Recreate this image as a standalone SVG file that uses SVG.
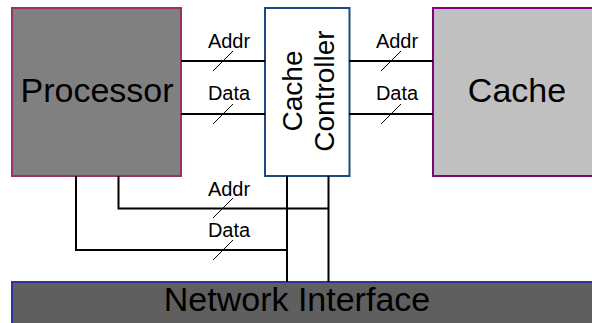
<svg xmlns="http://www.w3.org/2000/svg" width="592" height="323" viewBox="0 0 592 323">
  <style>
    text { font-family: "Liberation Sans", Arial, sans-serif; fill: #000; }
    .big { font-size: 34px; text-anchor: middle; }
    .ctl { font-size: 28px; text-anchor: middle; }
    .lbl { font-size: 20px; text-anchor: middle; }
    .bus { stroke: #000; stroke-width: 2; fill: none; }
    .tick { stroke: #000; stroke-width: 1; fill: none; }
  </style>

  <!-- Processor -->
  <g id="processor">
    <rect x="12" y="8" width="169" height="168" fill="#808080" stroke="#993366" stroke-width="2"/>
    <text class="big" x="97" y="102">Processor</text>
  </g>

  <!-- Cache controller, label set vertically -->
  <g id="cache-controller">
    <rect x="265" y="8" width="84.5" height="168" fill="#ffffff" stroke="#1c4a7c" stroke-width="2"/>
    <text class="ctl" transform="translate(302 91) rotate(-90)">Cache</text>
    <text class="ctl" transform="translate(334 91) rotate(-90)">Controller</text>
  </g>

  <!-- Cache -->
  <g id="cache">
    <rect x="433" y="8" width="170" height="168" fill="#c0c0c0" stroke="#800080" stroke-width="2"/>
    <text class="big" x="517" y="102">Cache</text>
  </g>

  <!-- Network interface -->
  <g id="network-interface">
    <rect x="12" y="282" width="590" height="50" fill="#5f5f5f" stroke="#333399" stroke-width="2"/>
    <text class="big" x="297" y="311">Network Interface</text>
  </g>

  <!-- Buses with width ticks -->
  <g id="connectors">
    <!-- processor to controller -->
    <line class="bus" x1="181" y1="61" x2="265" y2="61"/>
    <line class="bus" x1="181" y1="114" x2="265" y2="114"/>
    <line class="tick" x1="213" y1="71" x2="233" y2="51"/>
    <line class="tick" x1="213" y1="124" x2="233" y2="104"/>

    <!-- controller to cache -->
    <line class="bus" x1="349" y1="61" x2="433" y2="61"/>
    <line class="bus" x1="349" y1="114" x2="433" y2="114"/>
    <line class="tick" x1="381" y1="71" x2="401" y2="51"/>
    <line class="tick" x1="381" y1="124" x2="401" y2="104"/>

    <!-- processor to network interface -->
    <polyline class="bus" points="118.5,176 118.5,208.5 328.5,208.5"/>
    <polyline class="bus" points="76,176 76,250 287,250"/>
    <line class="tick" x1="213" y1="218" x2="233" y2="198"/>
    <line class="tick" x1="213" y1="260" x2="233" y2="240"/>

    <!-- controller to network interface -->
    <line class="bus" x1="287" y1="176" x2="287" y2="282"/>
    <line class="bus" x1="328.5" y1="176" x2="328.5" y2="282"/>
  </g>

  <!-- Bus labels -->
  <g id="labels">
    <text class="lbl" x="229" y="48">Addr</text>
    <text class="lbl" x="229" y="100">Data</text>
    <text class="lbl" x="397" y="48">Addr</text>
    <text class="lbl" x="397" y="100">Data</text>
    <text class="lbl" x="229" y="196">Addr</text>
    <text class="lbl" x="229" y="237">Data</text>
  </g>
</svg>
